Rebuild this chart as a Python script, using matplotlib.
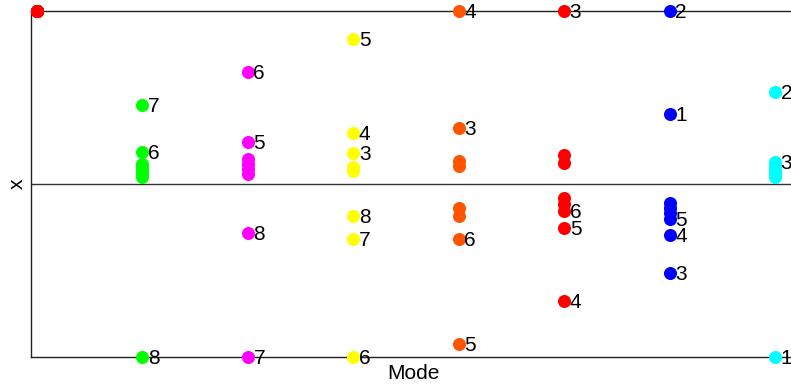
import matplotlib
matplotlib.use("Agg")
import matplotlib.pyplot as plt

plt.rcParams['font.family'] = ['Liberation Sans', 'DejaVu Sans']

# component values for each mode (index 1..8 within each mode)
modes = [0, 1, 2, 3, 4, 5, 6, 7]
mode0 = [1.0, 1.0, 1.0, 1.0, 1.0, 1.0, 1.0, 1.0]
mode1 = [0.040, 0.058, 0.081, 0.098, 0.116, 0.185, 0.457, -1.0]
mode2 = [0.058, 0.087, 0.116, 0.145, 0.243, 0.647, -1.0, -0.283]
mode3 = [0.098, 0.075, 0.179, 0.295, 0.838, -1.0, -0.318, -0.185]
mode4 = [0.133, 0.104, 0.324, 1.0, -0.925, -0.318, -0.139, -0.185]
mode5 = [0.168, 0.121, 1.0, -0.676, -0.254, -0.156, -0.081, -0.116]
mode6 = [0.405, 1.0, -0.514, -0.295, -0.202, -0.110, -0.139, -0.168]
mode7 = [-1.0, 0.532, 0.127, 0.110, 0.092, 0.075, 0.058, 0.040]
values = [mode0, mode1, mode2, mode3, mode4, mode5, mode6, mode7]

# which indices get a text label in each mode
labelled = [
    [],
    [6, 7, 8],
    [5, 6, 7, 8],
    [3, 4, 5, 6, 7, 8],
    [3, 4, 5, 6],
    [3, 4, 5, 6],
    [1, 2, 3, 4, 5],
    [1, 2, 3],
]

colors = ['#ff0000', '#00ff00', '#ff00ff', '#ffff00', '#ff5500',
          '#ff0000', '#0000ff', '#00ffff']

fig = plt.figure(figsize=(7.91, 3.87), dpi=100)
ax = fig.add_axes([31 / 791, 30 / 387, 764 / 791, 346 / 387])

ax.axhline(0, color='#333333', lw=1.0, zorder=1)

for m, vals, labs, c in zip(modes, values, labelled, colors):
    xs = [m] * len(vals)
    ax.plot(xs, vals, 'o', color=c, ms=9.4, mew=0, clip_on=False, zorder=3)
    for i, v in enumerate(vals, start=1):
        if i in labs:
            ax.annotate(str(i), (m, v), xytext=(4.0, -1.0), textcoords='offset points',
                        va='center', ha='left', fontsize=15, zorder=4,
                        annotation_clip=False)

ax.set_xlim(-0.057, 7.19)
ax.set_ylim(-1, 1)
ax.set_xticks([])
ax.set_yticks([])
for s in ax.spines.values():
    s.set_color('#222222')
    s.set_linewidth(1.0)
ax.set_xlabel('Mode', fontsize=15, labelpad=5)
ax.set_ylabel('x', fontsize=15, labelpad=3)

fig.savefig('out.png', dpi=100)
